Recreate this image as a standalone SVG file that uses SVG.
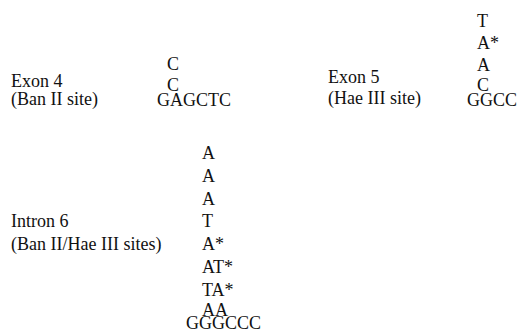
<svg xmlns="http://www.w3.org/2000/svg" width="519" height="333" viewBox="0 0 519 333">
<style>
text{font-family:'Liberation Serif','Times New Roman',serif;font-size:18px;fill:#111}
</style>
<rect width="519" height="333" fill="#fff"/>
<g id="exon4">
<text x="11" y="87">Exon 4</text>
<text x="11" y="105">(Ban II site)</text>
<text x="167" y="70">C</text>
<text x="167" y="91">C</text>
<text x="157" y="106">GAGCTC</text>
</g>
<g id="exon5">
<text x="328" y="83">Exon 5</text>
<text x="328" y="104">(Hae III site)</text>
<text x="477" y="27">T</text>
<text x="477" y="49">A*</text>
<text x="477" y="71">A</text>
<text x="477" y="91">C</text>
<text x="467" y="106">GGCC</text>
</g>
<g id="intron6">
<text x="11" y="227">Intron 6</text>
<text x="11" y="250">(Ban II/Hae III sites)</text>
<text x="202" y="159">A</text>
<text x="202" y="182">A</text>
<text x="202" y="205">A</text>
<text x="202" y="227">T</text>
<text x="202" y="250">A*</text>
<text x="202" y="273">AT*</text>
<text x="202" y="296">TA*</text>
<text x="202" y="316">AA</text>
<text x="186" y="329">GGGCCC</text>
</g>
<g id="connectors"/>
</svg>
